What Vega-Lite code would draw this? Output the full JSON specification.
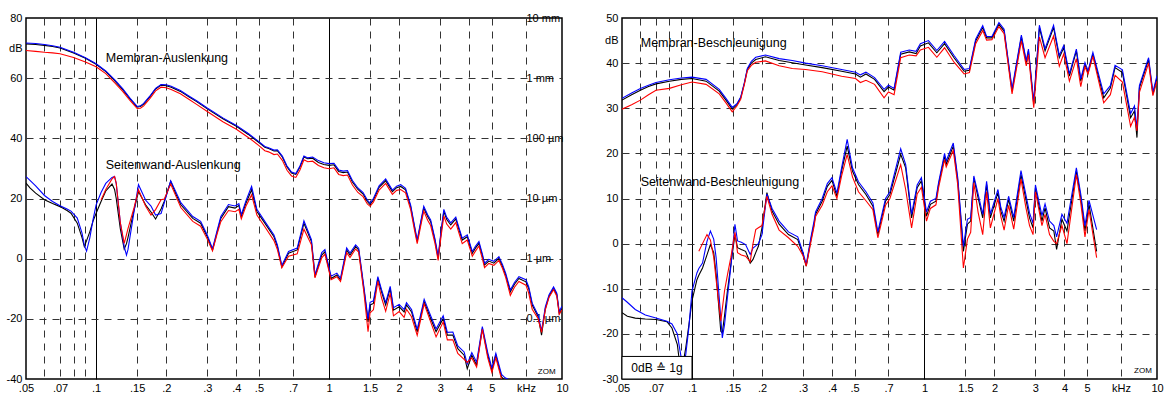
{
"$schema": "https://vega.github.io/schema/vega-lite/v6.json",
"padding": {"left": 5, "top": 11, "right": 2, "bottom": 2},
"background": "white",
"spacing": 60,
"bounds": "flush",
"config": {
  "view": {"stroke": "#000", "strokeWidth": 1.5},
  "axis": {"labelFont": "Liberation Sans", "labelFontSize": 11, "labelColor": "#000"},
  "text": {"font": "Liberation Sans", "color": "#000"}
},
"datasets": {
"L": [
{"c":"m","f":0.05,"k":71.4,"b":71.7,"r":69.2},{"c":"m","f":0.055,"k":71.2,"b":71.5,"r":68.9},{"c":"m","f":0.06,"k":70.9,"b":71.2,"r":68.6},{"c":"m","f":0.065,"k":70.5,"b":70.8,"r":68.4},{"c":"m","f":0.07,"k":70.0,"b":70.3,"r":68.1},{"c":"m","f":0.08,"k":68.4,"b":68.6,"r":66.9},{"c":"m","f":0.09,"k":66.6,"b":66.8,"r":65.4},{"c":"m","f":0.1,"k":64.6,"b":64.8,"r":63.8},{"c":"m","f":0.11,"k":62.2,"b":62.4,"r":61.5},{"c":"m","f":0.12,"k":59.2,"b":59.5,"r":58.5},{"c":"m","f":0.13,"k":56.2,"b":56.5,"r":55.6},{"c":"m","f":0.14,"k":53.0,"b":53.3,"r":52.5},{"c":"m","f":0.15,"k":50.4,"b":50.6,"r":49.9},{"c":"m","f":0.155,"k":50.6,"b":50.8,"r":50.0},{"c":"m","f":0.16,"k":51.4,"b":51.6,"r":50.8},{"c":"m","f":0.17,"k":53.8,"b":54.0,"r":53.2},{"c":"m","f":0.18,"k":56.4,"b":56.6,"r":55.8},{"c":"m","f":0.19,"k":57.7,"b":57.9,"r":57.0},{"c":"m","f":0.2,"k":57.5,"b":57.8,"r":56.8},{"c":"m","f":0.21,"k":57.0,"b":57.3,"r":56.2},{"c":"m","f":0.23,"k":55.6,"b":55.9,"r":54.8},{"c":"m","f":0.25,"k":53.8,"b":54.1,"r":53.0},{"c":"m","f":0.27,"k":52.2,"b":52.5,"r":51.3},{"c":"m","f":0.3,"k":49.8,"b":50.1,"r":48.9},{"c":"m","f":0.35,"k":46.5,"b":46.8,"r":45.5},{"c":"m","f":0.4,"k":44.0,"b":44.3,"r":43.0},{"c":"m","f":0.45,"k":41.3,"b":41.6,"r":40.3},{"c":"m","f":0.5,"k":38.6,"b":38.9,"r":37.6},{"c":"m","f":0.53,"k":37.0,"b":37.3,"r":35.9},{"c":"m","f":0.55,"k":36.6,"b":36.9,"r":35.5},{"c":"m","f":0.58,"k":35.8,"b":36.1,"r":34.6},{"c":"m","f":0.6,"k":35.9,"b":36.2,"r":34.8},{"c":"m","f":0.63,"k":33.8,"b":34.1,"r":32.7},{"c":"m","f":0.66,"k":30.5,"b":30.8,"r":29.4},{"c":"m","f":0.69,"k":28.5,"b":28.8,"r":27.5},{"c":"m","f":0.72,"k":28.0,"b":28.3,"r":27.0},{"c":"m","f":0.75,"k":30.5,"b":30.8,"r":29.5},{"c":"m","f":0.78,"k":33.8,"b":34.1,"r":32.9},{"c":"m","f":0.81,"k":33.2,"b":33.5,"r":32.2},{"c":"m","f":0.85,"k":33.4,"b":33.8,"r":32.4},{"c":"m","f":0.9,"k":32.0,"b":32.6,"r":31.0},{"c":"m","f":0.95,"k":31.3,"b":31.9,"r":30.2},{"c":"m","f":1.0,"k":31.0,"b":31.6,"r":29.9},{"c":"m","f":1.05,"k":31.2,"b":31.7,"r":30.2},{"c":"m","f":1.1,"k":29.0,"b":29.5,"r":28.0},{"c":"m","f":1.15,"k":28.6,"b":29.1,"r":27.6},{"c":"m","f":1.2,"k":28.8,"b":29.3,"r":27.8},{"c":"m","f":1.26,"k":25.5,"b":26.0,"r":24.5},{"c":"m","f":1.33,"k":23.0,"b":23.5,"r":22.0},{"c":"m","f":1.4,"k":21.5,"b":22.0,"r":20.6},{"c":"m","f":1.46,"k":19.0,"b":19.5,"r":18.2},{"c":"m","f":1.5,"k":18.0,"b":18.5,"r":17.4},{"c":"m","f":1.55,"k":19.5,"b":20.0,"r":18.8},{"c":"m","f":1.64,"k":23.7,"b":24.2,"r":22.8},{"c":"m","f":1.75,"k":25.9,"b":26.5,"r":25.0},{"c":"m","f":1.87,"k":22.3,"b":22.8,"r":21.4},{"c":"m","f":1.95,"k":23.6,"b":24.1,"r":22.7},{"c":"m","f":2.03,"k":24.0,"b":24.6,"r":23.0},{"c":"m","f":2.13,"k":22.9,"b":23.4,"r":21.9},{"c":"m","f":2.24,"k":17.3,"b":17.8,"r":16.3},{"c":"m","f":2.32,"k":11.0,"b":11.5,"r":10.0},{"c":"m","f":2.39,"k":5.7,"b":6.2,"r":5.0},{"c":"m","f":2.47,"k":11.5,"b":12.0,"r":10.6},{"c":"m","f":2.55,"k":16.8,"b":17.4,"r":15.8},{"c":"m","f":2.65,"k":14.0,"b":14.6,"r":12.8},{"c":"m","f":2.73,"k":12.3,"b":12.9,"r":11.0},{"c":"m","f":2.85,"k":6.0,"b":6.5,"r":5.0},{"c":"m","f":2.94,"k":0.1,"b":0.8,"r":-0.6},{"c":"m","f":3.02,"k":8.0,"b":8.6,"r":7.0},{"c":"m","f":3.11,"k":15.7,"b":16.4,"r":14.2},{"c":"m","f":3.2,"k":13.0,"b":13.7,"r":11.5},{"c":"m","f":3.33,"k":11.2,"b":11.9,"r":9.8},{"c":"m","f":3.5,"k":13.2,"b":13.8,"r":12.0},{"c":"m","f":3.6,"k":10.0,"b":10.6,"r":8.8},{"c":"m","f":3.73,"k":6.2,"b":6.8,"r":5.0},{"c":"m","f":3.92,"k":7.3,"b":7.9,"r":6.2},{"c":"m","f":4.12,"k":1.8,"b":2.4,"r":0.8},{"c":"m","f":4.25,"k":3.5,"b":4.1,"r":2.5},{"c":"m","f":4.4,"k":5.1,"b":5.7,"r":4.2},{"c":"m","f":4.55,"k":1.0,"b":1.6,"r":0.0},{"c":"m","f":4.65,"k":-2.1,"b":-1.5,"r":-3.0},{"c":"m","f":4.85,"k":-0.8,"b":-0.2,"r":-1.6},{"c":"m","f":5.1,"k":-1.5,"b":-0.9,"r":-2.2},{"c":"m","f":5.36,"k":0.1,"b":0.7,"r":-0.6},{"c":"m","f":5.55,"k":-2.5,"b":-1.9,"r":-3.2},{"c":"m","f":5.73,"k":-5.4,"b":-4.8,"r":-6.2},{"c":"m","f":6.0,"k":-11.0,"b":-10.4,"r":-12.2},{"c":"m","f":6.25,"k":-8.5,"b":-7.9,"r":-9.5},{"c":"m","f":6.53,"k":-6.6,"b":-6.0,"r":-7.6},{"c":"m","f":7.0,"k":-7.7,"b":-7.0,"r":-8.8},{"c":"m","f":7.2,"k":-10.0,"b":-9.4,"r":-11.5},{"c":"m","f":7.45,"k":-15.4,"b":-14.8,"r":-16.8},{"c":"m","f":7.9,"k":-19.3,"b":-18.8,"r":-20.0},{"c":"m","f":8.17,"k":-25.4,"b":-24.0,"r":-24.5},{"c":"m","f":8.48,"k":-16.6,"b":-16.0,"r":-17.0},{"c":"m","f":8.8,"k":-12.5,"b":-12.0,"r":-12.8},{"c":"m","f":9.2,"k":-9.9,"b":-9.4,"r":-10.3},{"c":"m","f":9.5,"k":-12.0,"b":-11.5,"r":-12.5},{"c":"m","f":9.73,"k":-18.2,"b":-17.6,"r":-18.5},{"c":"m","f":10,"k":-16.6,"b":-15.8,"r":-17.0},
{"c":"s","f":0.05,"k":25.1,"b":27.3},{"c":"s","f":0.052,"k":23.5,"b":26.0},{"c":"s","f":0.055,"k":21.8,"b":24.2},{"c":"s","f":0.06,"k":19.6,"b":21.0},{"c":"s","f":0.065,"k":18.3,"b":19.0},{"c":"s","f":0.07,"k":17.3,"b":17.6},{"c":"s","f":0.075,"k":16.0,"b":16.5},{"c":"s","f":0.078,"k":15.1,"b":15.8},{"c":"s","f":0.083,"k":11.8,"b":13.5},{"c":"s","f":0.087,"k":7.0,"b":8.5},{"c":"s","f":0.089,"k":4.0,"b":4.5},{"c":"s","f":0.091,"k":6.0,"b":2.5},{"c":"s","f":0.094,"k":9.0,"b":7.0},{"c":"s","f":0.097,"k":12.5,"b":13.0},{"c":"s","f":0.1,"k":15.1,"b":17.9},{"c":"s","f":0.105,"k":19.0,"b":22.0,"r":19.5},{"c":"s","f":0.11,"k":22.5,"b":25.0,"r":23.0},{"c":"s","f":0.117,"k":24.8,"b":27.0,"r":26.5},{"c":"s","f":0.12,"k":23.0,"b":27.3,"r":27.3},{"c":"s","f":0.122,"k":20.0,"b":25.0,"r":25.0},{"c":"s","f":0.127,"k":10.0,"b":12.0,"r":12.0},{"c":"s","f":0.132,"k":3.2,"b":4.0,"r":5.1},{"c":"s","f":0.135,"k":5.0,"b":1.2,"r":8.0},{"c":"s","f":0.137,"k":7.0,"b":3.0,"r":10.0},{"c":"s","f":0.145,"k":15.7,"b":15.0,"r":16.5},{"c":"s","f":0.152,"k":22.3,"b":24.6,"r":22.9},{"c":"s","f":0.163,"k":17.9,"b":19.5,"r":17.5},{"c":"s","f":0.172,"k":15.5,"b":17.5,"r":14.5},{"c":"s","f":0.18,"k":13.2,"b":14.5,"r":16.3},{"c":"s","f":0.19,"k":16.5,"b":15.0,"r":19.6},{"c":"s","f":0.196,"k":19.0,"b":18.5,"r":19.8},{"c":"s","f":0.209,"k":25.7,"b":25.9,"r":24.8},{"c":"s","f":0.22,"k":21.5,"b":22.2,"r":20.8},{"c":"s","f":0.231,"k":17.9,"b":18.6,"r":17.0},{"c":"s","f":0.26,"k":13.4,"b":14.0,"r":12.4},{"c":"s","f":0.281,"k":11.8,"b":12.4,"r":10.8},{"c":"s","f":0.3,"k":7.3,"b":7.9,"r":6.5},{"c":"s","f":0.316,"k":2.9,"b":3.3,"r":2.6},{"c":"s","f":0.33,"k":8.5,"b":9.1,"r":8.0},{"c":"s","f":0.343,"k":13.4,"b":14.0,"r":12.3},{"c":"s","f":0.37,"k":17.3,"b":18.0,"r":16.0},{"c":"s","f":0.395,"k":16.8,"b":17.5,"r":15.6},{"c":"s","f":0.41,"k":17.7,"b":18.3,"r":16.4},{"c":"s","f":0.42,"k":14.0,"b":14.6,"r":13.2},{"c":"s","f":0.44,"k":18.5,"b":19.3,"r":17.5},{"c":"s","f":0.465,"k":22.9,"b":24.0,"r":21.2},{"c":"s","f":0.49,"k":15.7,"b":16.4,"r":14.5},{"c":"s","f":0.53,"k":11.8,"b":12.4,"r":10.6},{"c":"s","f":0.58,"k":7.3,"b":7.9,"r":6.0},{"c":"s","f":0.6,"k":4.0,"b":4.6,"r":3.0},{"c":"s","f":0.627,"k":-2.7,"b":-2.3,"r":-3.0},{"c":"s","f":0.67,"k":1.8,"b":2.4,"r":0.8},{"c":"s","f":0.73,"k":2.9,"b":3.5,"r":1.6},{"c":"s","f":0.78,"k":11.8,"b":12.6,"r":9.8},{"c":"s","f":0.84,"k":5.7,"b":6.3,"r":4.6},{"c":"s","f":0.87,"k":-6.0,"b":-5.4,"r":-6.4},{"c":"s","f":0.93,"k":1.2,"b":2.0,"r":0.3},{"c":"s","f":0.96,"k":2.3,"b":3.0,"r":1.5},{"c":"s","f":1.02,"k":-6.6,"b":-5.8,"r":-7.0},{"c":"s","f":1.08,"k":-5.4,"b":-4.8,"r":-6.0},{"c":"s","f":1.12,"k":-7.1,"b":-6.5,"r":-7.6},{"c":"s","f":1.19,"k":2.9,"b":3.6,"r":2.0},{"c":"s","f":1.23,"k":1.2,"b":1.9,"r":0.4},{"c":"s","f":1.3,"k":4.0,"b":4.6,"r":3.2},{"c":"s","f":1.34,"k":2.9,"b":3.5,"r":2.2},{"c":"s","f":1.41,"k":-9.9,"b":-9.2,"r":-11.0},{"c":"s","f":1.47,"k":-21.0,"b":-20.0,"r":-24.3},{"c":"s","f":1.5,"k":-15.4,"b":-14.5,"r":-18.0},{"c":"s","f":1.55,"k":-14.9,"b":-14.0,"r":-17.0},{"c":"s","f":1.62,"k":-6.6,"b":-6.0,"r":-7.5},{"c":"s","f":1.68,"k":-11.0,"b":-10.3,"r":-13.0},{"c":"s","f":1.75,"k":-15.4,"b":-14.6,"r":-17.5},{"c":"s","f":1.83,"k":-9.9,"b":-9.2,"r":-11.5},{"c":"s","f":1.89,"k":-17.1,"b":-16.3,"r":-19.0},{"c":"s","f":2.0,"k":-16.0,"b":-15.2,"r":-17.6},{"c":"s","f":2.1,"k":-17.7,"b":-16.9,"r":-19.5},{"c":"s","f":2.15,"k":-15.4,"b":-14.6,"r":-16.8},{"c":"s","f":2.26,"k":-17.7,"b":-16.9,"r":-19.3},{"c":"s","f":2.39,"k":-24.3,"b":-23.5,"r":-25.5},{"c":"s","f":2.56,"k":-14.3,"b":-13.5,"r":-15.0},{"c":"s","f":2.73,"k":-19.9,"b":-19.0,"r":-21.0},{"c":"s","f":2.88,"k":-24.3,"b":-23.4,"r":-26.0},{"c":"s","f":3.09,"k":-19.9,"b":-19.0,"r":-21.0},{"c":"s","f":3.22,"k":-25.4,"b":-24.5,"r":-27.0},{"c":"s","f":3.4,"k":-25.4,"b":-24.4,"r":-27.0},{"c":"s","f":3.57,"k":-29.9,"b":-29.0,"r":-31.5},{"c":"s","f":3.8,"k":-32.1,"b":-31.0,"r":-33.5},{"c":"s","f":3.92,"k":-36.6,"b":-35.0,"r":-34.5},{"c":"s","f":4.1,"k":-32.1,"b":-31.2,"r":-33.0},{"c":"s","f":4.3,"k":-35.4,"b":-34.4,"r":-36.0},{"c":"s","f":4.55,"k":-23.2,"b":-22.6,"r":-23.5},{"c":"s","f":4.8,"k":-32.1,"b":-31.2,"r":-33.0},{"c":"s","f":5.0,"k":-37.1,"b":-36.3,"r":-37.8},{"c":"s","f":5.2,"k":-32.1,"b":-31.5,"r":-33.0},{"c":"s","f":5.5,"k":-39.3,"b":-38.5,"r":-40.0},{"c":"s","f":5.7,"k":-40.5,"b":-39.6,"r":-41.0},{"c":"s","f":5.9,"k":-42.0,"b":-40.2,"r":-42.0},{"c":"s","f":6.1,"k":-44.0,"b":-40.6,"r":-44.0}
],
"R": [
{"c":"m","f":0.05,"k":31.8,"b":32.2,"r":29.8},{"c":"m","f":0.055,"k":33.0,"b":33.4,"r":30.8},{"c":"m","f":0.06,"k":34.0,"b":34.4,"r":31.8},{"c":"m","f":0.065,"k":34.8,"b":35.1,"r":33.0},{"c":"m","f":0.07,"k":35.4,"b":35.7,"r":34.0},{"c":"m","f":0.08,"k":36.0,"b":36.3,"r":34.4},{"c":"m","f":0.09,"k":36.4,"b":36.7,"r":35.2},{"c":"m","f":0.1,"k":36.6,"b":36.9,"r":35.8},{"c":"m","f":0.115,"k":36.0,"b":36.4,"r":35.3},{"c":"m","f":0.131,"k":33.8,"b":34.2,"r":33.2},{"c":"m","f":0.14,"k":31.8,"b":32.2,"r":31.2},{"c":"m","f":0.149,"k":29.8,"b":30.2,"r":29.2},{"c":"m","f":0.156,"k":30.8,"b":31.0,"r":30.5},{"c":"m","f":0.162,"k":32.3,"b":32.5,"r":32.0},{"c":"m","f":0.168,"k":35.5,"b":35.7,"r":35.3},{"c":"m","f":0.173,"k":38.6,"b":38.8,"r":38.3},{"c":"m","f":0.18,"k":40.0,"b":40.4,"r":39.5},{"c":"m","f":0.188,"k":40.8,"b":41.3,"r":40.2},{"c":"m","f":0.207,"k":41.4,"b":41.8,"r":40.5},{"c":"m","f":0.237,"k":40.6,"b":41.0,"r":39.4},{"c":"m","f":0.27,"k":40.1,"b":40.6,"r":38.8},{"c":"m","f":0.308,"k":39.6,"b":40.0,"r":38.6},{"c":"m","f":0.363,"k":39.0,"b":39.4,"r":38.1},{"c":"m","f":0.44,"k":38.2,"b":38.6,"r":37.1},{"c":"m","f":0.505,"k":37.6,"b":38.0,"r":36.6},{"c":"m","f":0.53,"k":36.9,"b":37.4,"r":35.7},{"c":"m","f":0.56,"k":37.6,"b":38.0,"r":36.2},{"c":"m","f":0.61,"k":36.4,"b":36.8,"r":35.3},{"c":"m","f":0.67,"k":33.7,"b":34.2,"r":32.3},{"c":"m","f":0.7,"k":34.7,"b":35.1,"r":33.6},{"c":"m","f":0.74,"k":34.0,"b":34.4,"r":33.0},{"c":"m","f":0.79,"k":42.0,"b":42.4,"r":41.2},{"c":"m","f":0.86,"k":42.5,"b":42.9,"r":41.8},{"c":"m","f":0.92,"k":42.1,"b":42.6,"r":41.6},{"c":"m","f":0.96,"k":43.8,"b":44.3,"r":42.9},{"c":"m","f":1.04,"k":44.5,"b":45.0,"r":43.5},{"c":"m","f":1.13,"k":42.3,"b":42.8,"r":41.3},{"c":"m","f":1.22,"k":44.3,"b":44.8,"r":43.4},{"c":"m","f":1.34,"k":41.2,"b":41.7,"r":40.2},{"c":"m","f":1.48,"k":38.2,"b":38.6,"r":37.6},{"c":"m","f":1.56,"k":38.4,"b":38.8,"r":37.9},{"c":"m","f":1.66,"k":44.9,"b":45.3,"r":44.3},{"c":"m","f":1.78,"k":47.9,"b":48.3,"r":47.2},{"c":"m","f":1.85,"k":45.6,"b":45.9,"r":45.1},{"c":"m","f":1.95,"k":45.6,"b":45.9,"r":45.2},{"c":"m","f":2.09,"k":48.6,"b":49.0,"r":48.1},{"c":"m","f":2.2,"k":47.1,"b":47.5,"r":46.5},{"c":"m","f":2.38,"k":33.8,"b":34.3,"r":33.2},{"c":"m","f":2.61,"k":45.8,"b":46.2,"r":44.9},{"c":"m","f":2.74,"k":40.1,"b":40.5,"r":39.4},{"c":"m","f":2.8,"k":42.7,"b":43.1,"r":41.9},{"c":"m","f":2.95,"k":30.9,"b":31.5,"r":30.1},{"c":"m","f":3.12,"k":47.9,"b":48.4,"r":45.8},{"c":"m","f":3.3,"k":42.7,"b":43.2,"r":41.2},{"c":"m","f":3.59,"k":47.9,"b":48.4,"r":46.0},{"c":"m","f":3.8,"k":41.2,"b":41.7,"r":39.3},{"c":"m","f":3.97,"k":43.4,"b":43.9,"r":42.0},{"c":"m","f":4.2,"k":37.1,"b":37.6,"r":36.0},{"c":"m","f":4.5,"k":42.7,"b":43.1,"r":41.0},{"c":"m","f":4.7,"k":36.0,"b":36.5,"r":34.8},{"c":"m","f":4.9,"k":39.7,"b":40.1,"r":39.2},{"c":"m","f":5.05,"k":37.9,"b":38.3,"r":37.6},{"c":"m","f":5.3,"k":42.0,"b":42.4,"r":41.5},{"c":"m","f":5.9,"k":32.3,"b":33.2,"r":31.2},{"c":"m","f":6.3,"k":34.5,"b":35.0,"r":33.0},{"c":"m","f":6.6,"k":39.0,"b":39.5,"r":37.3},{"c":"m","f":7.1,"k":37.9,"b":38.5,"r":35.8},{"c":"m","f":7.7,"k":27.9,"b":28.8,"r":26.0},{"c":"m","f":8.0,"k":29.4,"b":30.5,"r":28.0},{"c":"m","f":8.2,"k":23.5,"b":25.5,"r":25.0},{"c":"m","f":8.4,"k":34.5,"b":35.0,"r":33.5},{"c":"m","f":9.2,"k":40.8,"b":41.2,"r":40.0},{"c":"m","f":9.6,"k":33.1,"b":33.6,"r":32.8},{"c":"m","f":10,"k":36.8,"b":37.2,"r":36.0},
{"c":"s","f":0.05,"k":-15.3,"b":-12.0},{"c":"s","f":0.0527,"k":-16.1,"b":-13.0},{"c":"s","f":0.057,"k":-16.5,"b":-14.6},{"c":"s","f":0.063,"k":-16.7,"b":-15.8},{"c":"s","f":0.07,"k":-16.8,"b":-16.5},{"c":"s","f":0.078,"k":-17.3,"b":-17.2},{"c":"s","f":0.082,"k":-18.7,"b":-17.8},{"c":"s","f":0.0865,"k":-22.4,"b":-20.0},{"c":"s","f":0.088,"k":-25.5,"b":-22.5},{"c":"s","f":0.09,"k":-27.0,"b":-25.5},{"c":"s","f":0.092,"k":-26.0,"b":-27.0},{"c":"s","f":0.094,"k":-23.1,"b":-24.6},{"c":"s","f":0.097,"k":-18.0,"b":-18.5},{"c":"s","f":0.1,"k":-12.7,"b":-10.5},{"c":"s","f":0.105,"k":-8.0,"b":-6.5},{"c":"s","f":0.107,"k":-7.0,"b":-5.5,"r":-1.7},{"c":"s","f":0.111,"k":-5.4,"b":-4.3,"r":0.0},{"c":"s","f":0.116,"k":-2.5,"b":0.5,"r":2.0},{"c":"s","f":0.12,"k":-0.2,"b":2.8,"r":0.8},{"c":"s","f":0.124,"k":-2.0,"b":1.0,"r":-3.0},{"c":"s","f":0.127,"k":-6.8,"b":-3.1,"r":-8.0},{"c":"s","f":0.133,"k":-19.4,"b":-16.5,"r":-17.2},{"c":"s","f":0.135,"k":-19.8,"b":-20.9,"r":-14.5},{"c":"s","f":0.138,"k":-16.0,"b":-18.0,"r":-10.5},{"c":"s","f":0.142,"k":-10.5,"b":-12.0,"r":-7.0},{"c":"s","f":0.147,"k":-4.6,"b":-5.0,"r":-3.0},{"c":"s","f":0.153,"k":2.0,"b":4.3,"r":2.5},{"c":"s","f":0.157,"k":-0.9,"b":0.6,"r":-2.0},{"c":"s","f":0.163,"k":-1.3,"b":0.3,"r":-2.5},{"c":"s","f":0.17,"k":-1.7,"b":-0.2,"r":-2.8},{"c":"s","f":0.178,"k":-4.3,"b":-2.4,"r":-4.0},{"c":"s","f":0.183,"k":-3.5,"b":-1.0,"r":0.0},{"c":"s","f":0.188,"k":-2.0,"b":-0.5,"r":3.1},{"c":"s","f":0.193,"k":-0.6,"b":0.0,"r":3.5},{"c":"s","f":0.2,"k":3.5,"b":2.0,"r":4.0},{"c":"s","f":0.21,"k":11.3,"b":11.0,"r":10.5},{"c":"s","f":0.221,"k":7.2,"b":7.8,"r":6.5},{"c":"s","f":0.237,"k":4.3,"b":5.0,"r":3.0},{"c":"s","f":0.26,"k":2.0,"b":2.6,"r":1.3},{"c":"s","f":0.285,"k":0.9,"b":1.5,"r":-0.6},{"c":"s","f":0.3,"k":-2.4,"b":-1.9,"r":-2.6},{"c":"s","f":0.31,"k":-5.0,"b":-4.6,"r":-5.0},{"c":"s","f":0.325,"k":1.0,"b":1.5,"r":0.5},{"c":"s","f":0.335,"k":4.3,"b":5.0,"r":3.8},{"c":"s","f":0.34,"k":6.5,"b":7.0,"r":6.0},{"c":"s","f":0.363,"k":9.4,"b":10.0,"r":8.5},{"c":"s","f":0.382,"k":12.7,"b":13.3,"r":11.5},{"c":"s","f":0.4,"k":14.0,"b":14.6,"r":12.8},{"c":"s","f":0.42,"k":10.5,"b":11.2,"r":10.0},{"c":"s","f":0.44,"k":16.1,"b":16.8,"r":15.0},{"c":"s","f":0.465,"k":21.6,"b":23.1,"r":19.8},{"c":"s","f":0.49,"k":16.1,"b":16.8,"r":14.8},{"c":"s","f":0.52,"k":13.1,"b":13.7,"r":11.5},{"c":"s","f":0.56,"k":10.9,"b":11.5,"r":9.5},{"c":"s","f":0.6,"k":8.3,"b":9.0,"r":7.5},{"c":"s","f":0.63,"k":2.0,"b":2.6,"r":1.3},{"c":"s","f":0.68,"k":9.4,"b":10.0,"r":8.5},{"c":"s","f":0.71,"k":10.9,"b":11.5,"r":10.0},{"c":"s","f":0.79,"k":19.8,"b":21.0,"r":17.5},{"c":"s","f":0.83,"k":16.8,"b":17.5,"r":12.0},{"c":"s","f":0.88,"k":5.7,"b":6.5,"r":3.5},{"c":"s","f":0.93,"k":12.4,"b":13.0,"r":11.0},{"c":"s","f":0.97,"k":13.9,"b":14.6,"r":12.5},{"c":"s","f":1.02,"k":6.1,"b":7.0,"r":5.0},{"c":"s","f":1.06,"k":8.7,"b":9.4,"r":7.8},{"c":"s","f":1.12,"k":9.4,"b":10.0,"r":8.6},{"c":"s","f":1.15,"k":13.1,"b":13.6,"r":12.4},{"c":"s","f":1.22,"k":19.4,"b":20.0,"r":18.6},{"c":"s","f":1.24,"k":17.6,"b":18.3,"r":17.0},{"c":"s","f":1.33,"k":21.6,"b":22.3,"r":20.7},{"c":"s","f":1.39,"k":13.9,"b":14.6,"r":13.0},{"c":"s","f":1.47,"k":-1.7,"b":-0.6,"r":-5.4},{"c":"s","f":1.53,"k":4.3,"b":5.4,"r":1.0},{"c":"s","f":1.58,"k":5.0,"b":5.8,"r":2.5},{"c":"s","f":1.63,"k":14.6,"b":15.0,"r":13.5},{"c":"s","f":1.7,"k":10.2,"b":11.0,"r":7.0},{"c":"s","f":1.78,"k":5.7,"b":6.5,"r":2.0},{"c":"s","f":1.85,"k":13.1,"b":13.8,"r":11.5},{"c":"s","f":1.92,"k":5.7,"b":6.5,"r":3.5},{"c":"s","f":2.07,"k":11.3,"b":12.0,"r":10.0},{"c":"s","f":2.13,"k":7.2,"b":8.0,"r":6.0},{"c":"s","f":2.2,"k":5.0,"b":5.8,"r":3.0},{"c":"s","f":2.3,"k":9.8,"b":10.5,"r":8.5},{"c":"s","f":2.42,"k":5.0,"b":5.8,"r":3.2},{"c":"s","f":2.6,"k":15.3,"b":16.2,"r":14.3},{"c":"s","f":2.73,"k":9.8,"b":10.8,"r":8.0},{"c":"s","f":2.83,"k":5.7,"b":6.8,"r":4.0},{"c":"s","f":2.93,"k":3.5,"b":4.5,"r":2.0},{"c":"s","f":3.0,"k":12.4,"b":13.0,"r":11.5},{"c":"s","f":3.2,"k":5.0,"b":6.2,"r":4.0},{"c":"s","f":3.3,"k":7.9,"b":8.8,"r":6.5},{"c":"s","f":3.45,"k":3.5,"b":5.0,"r":2.0},{"c":"s","f":3.6,"k":2.8,"b":4.0,"r":0.5},{"c":"s","f":3.7,"k":-1.3,"b":1.5,"r":0.0},{"c":"s","f":3.9,"k":5.4,"b":6.5,"r":4.0},{"c":"s","f":4.1,"k":2.8,"b":4.5,"r":0.0},{"c":"s","f":4.5,"k":16.1,"b":16.8,"r":15.3},{"c":"s","f":4.7,"k":10.2,"b":11.0,"r":9.0},{"c":"s","f":4.9,"k":2.8,"b":4.0,"r":1.5},{"c":"s","f":5.1,"k":8.7,"b":9.6,"r":7.5},{"c":"s","f":5.5,"k":-1.7,"b":3.1,"r":-3.1}
]
},
"hconcat": [
{
  "width": 536, "height": 361,
  "resolve": {"axis": {"x": "independent", "y": "independent"}},
  "layer": [
    {
      "data": {"name": "L"},
      "transform": [{"fold": ["k", "b", "r"], "as": ["s", "v"]}, {"filter": "isValid(datum.v)"}],
      "mark": {"type": "line", "strokeWidth": 1.1, "clip": true},
      "encoding": {
        "x": {"field": "f", "type": "quantitative", "scale": {"type": "log", "domain": [0.05, 10]},
          "axis": {"values": [0.05,0.06,0.07,0.08,0.09,0.1,0.15,0.2,0.3,0.4,0.5,0.7,1,1.5,2,3,4,5,7,10],
            "labelExpr": "indexof([0.06,0.08,0.09], datum.value) >= 0 ? '' : datum.value == 7 ? 'kHz' : replace(toString(datum.value), '0.', '.')",
            "title": null, "ticks": false, "domain": false, "labelPadding": 3, "labelFlush": false, "labelOverlap": false,
            "grid": true, "gridWidth": 1,
            "gridColor": {"condition": {"test": "datum.value == 0.1 || datum.value == 1", "value": "#000"}, "value": "#333333"},
            "gridDash": {"condition": {"test": "datum.value == 0.1 || datum.value == 1", "value": []}, "value": [7, 6]},
            "gridOpacity": {"condition": {"test": "datum.value == 0.05 || datum.value == 10", "value": 0}, "value": 1}}},
        "y": {"field": "v", "type": "quantitative", "scale": {"domain": [-40, 80], "nice": false},
          "axis": {"values": [-40,-20,0,20,40,60,70,80], "labelExpr": "datum.value == 70 ? 'dB' : toString(datum.value)",
            "title": null, "ticks": false, "domain": false, "labelPadding": 4, "grid": true, "gridColor": "#333333", "gridDash": [7, 6],
            "gridOpacity": {"condition": {"test": "datum.value == 70 || datum.value == 80 || datum.value == -40", "value": 0}, "value": 1}}},
        "color": {"field": "s", "type": "nominal", "scale": {"domain": ["k", "b", "r"], "range": ["#000000", "#0000ff", "#ff0000"]}, "legend": null},
        "detail": {"field": "c"}
      }
    },
    {
      "data": {"values": [{"f": 0.11, "v": 66.7, "t": "Membran-Auslenkung"}, {"f": 0.11, "v": 31.3, "t": "Seitenwand-Auslenkung"}]},
      "mark": {"type": "text", "align": "left", "baseline": "middle", "fontSize": 12.5},
      "encoding": {
        "x": {"field": "f", "type": "quantitative", "scale": {"type": "log", "domain": [0.05, 10]}, "axis": null},
        "y": {"field": "v", "type": "quantitative", "scale": {"domain": [-40, 80], "nice": false},
          "axis": {"orient": "right", "values": [80,60,40,20,0,-20],
            "labelExpr": "datum.value == 80 ? '10 mm' : datum.value == 60 ? '1 mm' : datum.value == 40 ? '100 µm' : datum.value == 20 ? '10 µm' : datum.value == 0 ? '1 µm' : '0.1 µm'",
            "title": null, "ticks": false, "domain": false, "grid": false, "labelPadding": -36, "labelAlign": "left"}},
        "text": {"field": "t"}
      }
    },
    {
      "data": {"values": [{"f": 8.6, "v": -37.8, "t": "ZOM"}]},
      "mark": {"type": "text", "align": "center", "baseline": "middle", "fontSize": 8},
      "encoding": {
        "x": {"field": "f", "type": "quantitative", "scale": {"type": "log", "domain": [0.05, 10]}, "axis": null},
        "y": {"field": "v", "type": "quantitative", "axis": null},
        "text": {"field": "t"}
      }
    }
  ]
},
{
  "width": 535, "height": 361,
  "resolve": {"axis": {"x": "independent", "y": "independent"}},
  "layer": [
    {
      "data": {"name": "R"},
      "transform": [{"fold": ["k", "b", "r"], "as": ["s", "v"]}, {"filter": "isValid(datum.v)"}],
      "mark": {"type": "line", "strokeWidth": 1.1, "clip": true},
      "encoding": {
        "x": {"field": "f", "type": "quantitative", "scale": {"type": "log", "domain": [0.05, 10]},
          "axis": {"values": [0.05,0.06,0.07,0.08,0.09,0.1,0.15,0.2,0.3,0.4,0.5,0.7,1,1.5,2,3,4,5,7,10],
            "labelExpr": "indexof([0.06,0.08,0.09], datum.value) >= 0 ? '' : datum.value == 7 ? 'kHz' : replace(toString(datum.value), '0.', '.')",
            "title": null, "ticks": false, "domain": false, "labelPadding": 3, "labelFlush": false, "labelOverlap": false,
            "grid": true, "gridWidth": 1,
            "gridColor": {"condition": {"test": "datum.value == 0.1 || datum.value == 1", "value": "#000"}, "value": "#333333"},
            "gridDash": {"condition": {"test": "datum.value == 0.1 || datum.value == 1", "value": []}, "value": [7, 6]},
            "gridOpacity": {"condition": {"test": "datum.value == 0.05 || datum.value == 10", "value": 0}, "value": 1}}},
        "y": {"field": "v", "type": "quantitative", "scale": {"domain": [-30, 50], "nice": false},
          "axis": {"values": [-30,-20,-10,0,10,20,30,40,45,50], "labelExpr": "datum.value == 45 ? 'dB' : toString(datum.value)",
            "title": null, "ticks": false, "domain": false, "labelPadding": 4, "grid": true, "gridColor": "#333333", "gridDash": [7, 6],
            "gridOpacity": {"condition": {"test": "datum.value == 45 || datum.value == 50 || datum.value == -30", "value": 0}, "value": 1}}},
        "color": {"field": "s", "type": "nominal", "scale": {"domain": ["k", "b", "r"], "range": ["#000000", "#0000ff", "#ff0000"]}, "legend": null},
        "detail": {"field": "c"}
      }
    },
    {
      "data": {"values": [{"f1": 0.05, "f2": 0.1, "v1": -30, "v2": -25}]},
      "mark": {"type": "rect", "fill": "white", "stroke": "#000", "strokeWidth": 1},
      "encoding": {
        "x": {"field": "f1", "type": "quantitative", "scale": {"type": "log", "domain": [0.05, 10]}, "axis": null},
        "x2": {"field": "f2"},
        "y": {"field": "v1", "type": "quantitative", "axis": null},
        "y2": {"field": "v2"}
      }
    },
    {
      "data": {"values": [{"f": 0.0602, "v": 44.5, "t": "Membran-Beschleunigung"}, {"f": 0.0602, "v": 13.6, "t": "Seitenwand-Beschleunigung"}]},
      "mark": {"type": "text", "align": "left", "baseline": "middle", "fontSize": 12.5},
      "encoding": {
        "x": {"field": "f", "type": "quantitative", "scale": {"type": "log", "domain": [0.05, 10]}, "axis": null},
        "y": {"field": "v", "type": "quantitative", "axis": null},
        "text": {"field": "t"}
      }
    },
    {
      "data": {"values": [{"f": 0.0707, "v": -27.5, "t": "0dB ≙ 1g"}]},
      "mark": {"type": "text", "align": "center", "baseline": "middle", "fontSize": 12},
      "encoding": {
        "x": {"field": "f", "type": "quantitative", "scale": {"type": "log", "domain": [0.05, 10]}, "axis": null},
        "y": {"field": "v", "type": "quantitative", "axis": null},
        "text": {"field": "t"}
      }
    },
    {
      "data": {"values": [{"f": 8.7, "v": -28.3, "t": "ZOM"}]},
      "mark": {"type": "text", "align": "center", "baseline": "middle", "fontSize": 8},
      "encoding": {
        "x": {"field": "f", "type": "quantitative", "scale": {"type": "log", "domain": [0.05, 10]}, "axis": null},
        "y": {"field": "v", "type": "quantitative", "axis": null},
        "text": {"field": "t"}
      }
    }
  ]
}
]
}
